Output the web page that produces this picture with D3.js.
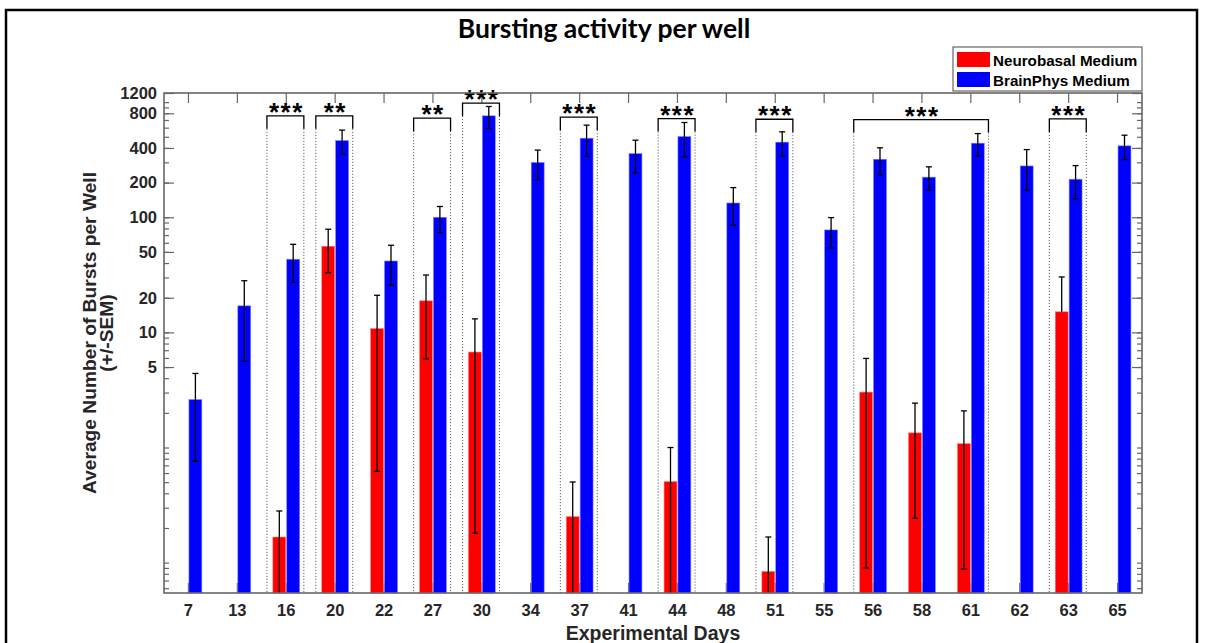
<!DOCTYPE html>
<html>
<head>
<meta charset="utf-8">
<script src="https://cdn.jsdelivr.net/npm/d3@7"></script>
<style>
  body { margin: 0; background: #fff; }
  text { font-family: "Liberation Sans", Arial, sans-serif; font-weight: bold; }
</style>
</head>
<body>
<div id="chart"></div>
<script>
// experimental days (categories)
var days = [7, 13, 16, 20, 22, 27, 30, 34, 37, 41, 44, 48, 51, 55, 56, 58, 61, 62, 63, 65];

// Neurobasal medium: mean, lower and upper end of the error bar (null = no bar / not drawn)
var neuroMean = [null, null, 0.167, 56, 10.8, 18.8, 6.75, null, 0.251, null, 0.506, null, 0.084, null, 3.03, 1.34, 1.08, null, 15.1, null];
var neuroLow  = [null, null, 0.05, 33, 0.62, 5.9, 0.18, null, 0.001, null, 0.012, null, 0.001, null, 0.09, 0.243, 0.088, null, null, null];
var neuroHigh = [null, null, 0.281, 78.7, 21, 31.5, 13.1, null, 0.502, null, 1.0, null, 0.167, null, 5.94, 2.43, 2.08, null, 30.3, null];

// BrainPhys medium
var brainMean = [2.61, 17.0, 43.2, 463, 41.7, 100, 760, 299, 486, 357, 502, 133, 449, 77.6, 319, 223, 440, 279, 214, 417];
var brainLow  = [0.76, 5.6, 27.2, 353, 25.8, 73.5, 589, 211, 339, 243, 336, 85.2, 339, 54.1, 232, 172, 339, 172, 145, 317];
var brainHigh = [4.4, 28.1, 58.2, 571, 57.1, 124, 916, 383, 631, 467, 665, 181, 552, 99.3, 401, 274, 533, 387, 281, 516];

// significance brackets
var sigFrom  = [16, 20, 27, 30, 37, 44, 51, 56, 63];
var sigTo    = [16, 20, 27, 30, 37, 44, 51, 61, 63];
var sigLevel = [760, 760, 725, 980, 740, 720, 710, 705, 715];
var sigLabel = ["***", "**", "**", "***", "***", "***", "***", "***", "***"];

// y tick labels
var yTicks = [5, 10, 20, 50, 100, 200, 400, 800, 1200];
var seriesNames = ["Neurobasal Medium", "BrainPhys Medium"];
var colors = ["#ff0000", "#0000ff"];

var W = 1208, H = 643;
var axL = 164, axR = 1142, axT = 93, axB = 593;

var svg = d3.select("#chart").append("svg")
   .attr("width", W)
   .attr("height", H);

svg.append("rect").attr("width", W).attr("height", H).attr("fill", "#fff");

// figure frame
svg.append("rect")
   .attr("x", 6).attr("y", 10)
   .attr("width", 1191).attr("height", 660)
   .attr("fill", "none").attr("stroke", "#000").attr("stroke-width", 2.5);

var x = d3.scaleBand().domain(days).range([axL, axR]).padding(0);
var bw = x.bandwidth();
var xs = d3.scaleBand().domain([0, 1]).range([-13.4, 13.4]).paddingInner(0.07);

var y = d3.scaleLog().domain([0.0545, 1200]).range([axB, axT]).clamp(true);

function cx(d) { return x(d) + bw / 2; }

// minor log ticks
var minor = [];
for (var k = -2; k <= 3; k++) {
   for (var m = 1; m <= 9; m++) {
      var v = m * Math.pow(10, k);
      if (v >= 0.0545 && v <= 1200) minor.push(v);
   }
}

function styleTicks(a) {
   a.select(".domain").remove();
   a.selectAll("line").attr("stroke", "#666").attr("stroke-width", 1.2);
   a.selectAll("text").attr("font-size", 16.5).attr("fill", "#262626")
      .attr("font-family", "Liberation Sans, Arial, sans-serif").attr("font-weight", "bold");
}

var g = svg.append("g");

// left axis
g.append("g")
   .attr("transform", "translate(" + axL + ",0)")
   .call(d3.axisLeft(y).tickValues(minor).tickSize(-5).tickFormat(""))
   .call(styleTicks);
g.append("g")
   .attr("transform", "translate(" + axL + ",0)")
   .call(d3.axisLeft(y).tickValues(yTicks).tickSize(-10).tickPadding(7).tickFormat(d3.format("d")))
   .call(styleTicks);

// right axis
g.append("g")
   .attr("transform", "translate(" + axR + ",0)")
   .call(d3.axisRight(y).tickValues(minor).tickSize(-5).tickFormat(""))
   .call(styleTicks);
g.append("g")
   .attr("transform", "translate(" + axR + ",0)")
   .call(d3.axisRight(y).tickValues(yTicks).tickSize(-10).tickFormat(""))
   .call(styleTicks);

// bottom / top axis
g.append("g")
   .attr("transform", "translate(0," + axB + ")")
   .call(d3.axisBottom(x).tickSize(-10).tickPadding(11.5))
   .call(styleTicks);
g.append("g")
   .attr("transform", "translate(0," + axT + ")")
   .call(d3.axisTop(x).tickSize(-10).tickFormat(""))
   .call(styleTicks);

// bars
var series = [
   { mean: neuroMean, low: neuroLow, high: neuroHigh },
   { mean: brainMean, low: brainLow, high: brainHigh }
];

series.forEach(function (s, si) {
   var rows = days.map(function (d, i) {
      return { day: d, mean: s.mean[i], low: s.low[i], high: s.high[i] };
   }).filter(function (r) { return r.mean != null; });

   var bx = function (r) { return cx(r.day) + xs(si); };

   g.append("g").selectAll("rect")
      .data(rows)
      .enter()
      .append("rect")
      .attr("x", bx)
      .attr("y", function (r) { return y(r.mean); })
      .attr("width", xs.bandwidth())
      .attr("height", function (r) { return axB - y(r.mean); })
      .attr("fill", colors[si])
      .attr("stroke", si == 0 ? "#ff8080" : "#8080ff")
      .attr("stroke-width", 0.6);

   var eb = g.append("g").attr("stroke", "#000").attr("stroke-width", 1.3);
   rows.forEach(function (r) {
      var ex = bx(r) + xs.bandwidth() / 2;
      var lo = r.low != null ? r.low : r.mean;
      eb.append("line").attr("x1", ex).attr("x2", ex).attr("y1", y(lo)).attr("y2", y(r.high));
      [r.low, r.high].forEach(function (v) {
         if (v == null || v < y.domain()[0]) return;
         eb.append("line").attr("x1", ex - 3).attr("x2", ex + 3).attr("y1", y(v)).attr("y2", y(v));
      });
   });
});

// significance brackets
var sg = g.append("g");
sigFrom.forEach(function (f, i) {
   var x1 = cx(f) - 0.395 * bw;
   var x2 = cx(sigTo[i]) + 0.36 * bw;
   var yb = y(sigLevel[i]);
   sg.append("path")
      .attr("d", "M" + x1 + "," + (yb + 13) + "V" + yb + "H" + x2 + "V" + (yb + 13))
      .attr("fill", "none").attr("stroke", "#000").attr("stroke-width", 1.3);
   [x1, x2].forEach(function (xx) {
      sg.append("line")
         .attr("x1", xx).attr("x2", xx)
         .attr("y1", yb + 13).attr("y2", axB)
         .attr("stroke", "#444").attr("stroke-width", 1)
         .attr("stroke-dasharray", "1,2");
   });
   sg.append("text")
      .attr("x", (x1 + x2) / 2 + 1)
      .attr("y", yb + 5)
      .attr("text-anchor", "middle")
      .attr("font-size", 26)
      .attr("letter-spacing", 1.5)
      .attr("fill", "#000")
      .text(sigLabel[i]);
});

// axes box
g.append("rect")
   .attr("x", axL).attr("y", axT)
   .attr("width", axR - axL).attr("height", axB - axT)
   .attr("fill", "none").attr("stroke", "#666").attr("stroke-width", 1.6);

// title and labels
svg.append("text")
   .attr("x", 604).attr("y", 38)
   .attr("text-anchor", "middle")
   .attr("font-size", 26.5)
   .style("font-family", "Lato, 'Open Sans', sans-serif")
   .attr("fill", "#000")
   .text("Bursting activity per well");

svg.append("text")
   .attr("x", (axL + axR) / 2).attr("y", 640)
   .attr("text-anchor", "middle")
   .attr("font-size", 19.5)
   .attr("fill", "#262626")
   .text("Experimental Days");

var yl = svg.append("g").attr("transform", "translate(96,333) rotate(-90)");
yl.append("text").attr("text-anchor", "middle").attr("font-size", 19.2).attr("fill", "#262626")
   .text("Average Number of Bursts per Well");
yl.append("text").attr("text-anchor", "middle").attr("y", 17).attr("font-size", 19.2).attr("fill", "#262626")
   .text("(+/-SEM)");

// legend
var lg = svg.append("g");
lg.append("rect")
   .attr("x", 953).attr("y", 47)
   .attr("width", 189).attr("height", 44)
   .attr("fill", "#fff").attr("stroke", "#666").attr("stroke-width", 1.2);
seriesNames.forEach(function (n, i) {
   lg.append("rect")
      .attr("x", 957).attr("y", 52 + i * 20)
      .attr("width", 33).attr("height", 15)
      .attr("fill", colors[i]);
   lg.append("text")
      .attr("x", 993).attr("y", 66 + i * 19.7)
      .attr("font-size", 15.2)
      .attr("fill", "#000")
      .text(n);
});
</script>
</body>
</html>
